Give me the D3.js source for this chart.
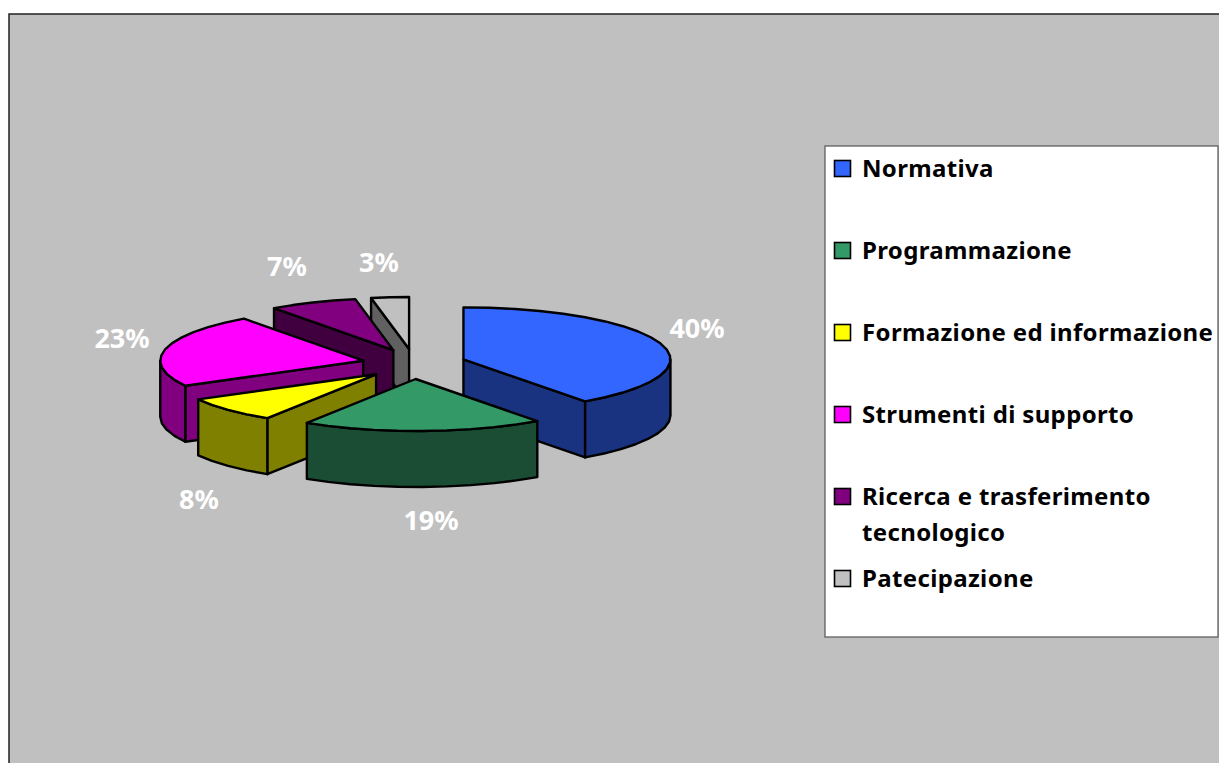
<!DOCTYPE html>
<html><head><meta charset="utf-8">
<script src="https://cdn.jsdelivr.net/npm/d3@7"></script>
<style>html,body{margin:0;padding:0;background:#fff;overflow:hidden}</style>
</head><body><svg id="c" width="1219" height="763"></svg>
<script>
const categories = ["Normativa","Programmazione","Formazione ed informazione","Strumenti di supporto","Ricerca e trasferimento tecnologico","Patecipazione"];
const values = [40,19,8,23,7,3];
const colors = ["#3366FF","#339966","#FFFF00","#FF00FF","#800080","#C0C0C0"];
const labelPos = [[697,328],[431,520],[199,499],[122,338],[287,266],[379,262]];

const svg = d3.select("#c");
const FONT = "'Noto Sans'";
svg.append("rect").attr("x",9).attr("y",14).attr("width",1300).attr("height",800)
  .attr("fill","#C0C0C0").attr("stroke","#222").attr("stroke-width",1.5);

const cx=414, cy=364, ry=52, depth=56, ex=52, ey=15;
const sx=d3.scaleLinear().domain([-1,0,1]).range([-203,0,207]);
const sy=d3.scaleLinear().domain([-1,1]).range([ry,-ry]);
const line=d3.line();
const half=c=>{const k=d3.rgb(c);return d3.rgb(k.r/2,k.g/2,k.b/2).formatHex();};
const STEP=Math.PI/24;
function arcPts(a0,a1,ox,oy,dz){
  const n=Math.max(1,Math.ceil((a1-a0)/STEP)),p=[];
  for(let i=0;i<=n;i++){const a=a0+(a1-a0)*i/n;p.push([ox+sx(Math.sin(a)),oy+sy(Math.cos(a))+dz]);}
  return p;
}
const arcs=d3.pie().sort(null)(values).map((d,i)=>{
  const mid=(d.startAngle+d.endAngle)/2;
  return {...d,i,mid,ox:cx+ex*Math.sin(mid),oy:cy-ey*Math.cos(mid)};
});
const order=arcs.slice().sort((a,b)=>Math.abs(b.mid-Math.PI)-Math.abs(a.mid-Math.PI));
const g=svg.append("g").attr("stroke","#000").attr("stroke-width",2.4).attr("stroke-linejoin","round");
order.forEach(d=>{
  const c=colors[d.i],dk=half(c),ap=[d.ox,d.oy];
  const face=a=>{const e=[d.ox+sx(Math.sin(a)),d.oy+sy(Math.cos(a))];
    g.append("path").attr("fill",dk).attr("d",line([ap,e,[e[0],e[1]+depth],[ap[0],ap[1]+depth]])+"Z");};
  if(d.startAngle>Math.PI) face(d.startAngle);
  if(d.endAngle<Math.PI) face(d.endAngle);
  const r0=Math.max(d.startAngle,Math.PI/2),r1=Math.min(d.endAngle,3*Math.PI/2);
  if(r1>r0){
    g.append("path").attr("fill",dk).attr("d",line(arcPts(r0,r1,d.ox,d.oy,0).concat(arcPts(r0,r1,d.ox,d.oy,depth).reverse()))+"Z");
  }
  g.append("path").attr("fill",c).attr("d",line([ap].concat(arcPts(d.startAngle,d.endAngle,d.ox,d.oy,0)))+"Z");
});
svg.append("g").selectAll("text").data(values).join("text")
  .attr("x",(d,i)=>labelPos[i][0]).attr("y",(d,i)=>labelPos[i][1]+10)
  .attr("text-anchor","middle").attr("fill","#fff")
  .attr("font-family",FONT).attr("font-weight","bold").attr("font-size",27)
  .text(d=>d+"%");

svg.append("rect").attr("x",825).attr("y",146).attr("width",393).attr("height",491)
  .attr("fill","#fff").attr("stroke","#555").attr("stroke-width",1.2);
const rowY=[169,251,333,415,497,579];
const lines=categories.map(s=>s.startsWith("Ricerca")?["Ricerca e trasferimento","tecnologico"]:[s]);
const lg=svg.append("g").selectAll("g").data(categories).join("g");
lg.append("rect").attr("x",834.5).attr("y",(d,i)=>rowY[i]-8.5).attr("width",16).attr("height",16)
  .attr("fill",(d,i)=>colors[i]).attr("stroke","#000").attr("stroke-width",1.6);
lg.each(function(d,i){
  lines[i].forEach((t,j)=>d3.select(this).append("text").attr("x",862).attr("y",rowY[i]+8+j*36)
    .attr("font-family",FONT).attr("font-weight","bold").attr("font-size",24).attr("letter-spacing",0.35).attr("fill","#000").text(t));
});
</script></body></html>
